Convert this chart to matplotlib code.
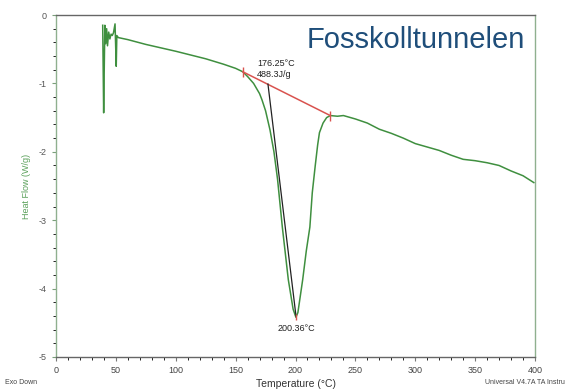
import matplotlib
matplotlib.use("Agg")
import matplotlib.pyplot as plt
import numpy as np

plt.rcParams['font.family'] = ['Liberation Sans', 'DejaVu Sans']

# Heat flow curve (Temperature °C, Heat Flow W/g)
temp = [39.0, 39.8, 40.2, 40.8, 41.5, 42.3, 43.0, 44.0, 45.0, 46.0, 47.0, 48.0, 49.3,
        50.3, 50.8, 52.0, 60, 75, 100, 125, 140, 150, 156,
        160, 165, 170, 172, 175, 178.7, 182, 185, 189, 194, 198, 200.36,
        202, 206, 209, 212, 214, 216.5, 218.5, 220, 223, 226, 229,
        235, 240, 250, 260, 270, 280, 290, 300, 310, 320, 330, 340, 350, 360, 370, 380, 390, 399]
heat = [-0.15, -1.43, -0.9, -0.15, -0.42, -0.2, -0.45, -0.25, -0.35, -0.28, -0.3, -0.26, -0.13,
        -0.75, -0.3, -0.33, -0.36, -0.43, -0.53, -0.64, -0.72, -0.78, -0.83,
        -0.9, -1.0, -1.15, -1.24, -1.4, -1.68, -2.0, -2.4, -3.1, -3.87, -4.3, -4.42,
        -4.35, -3.87, -3.45, -3.1, -2.6, -2.2, -1.9, -1.72, -1.58, -1.5, -1.47,
        -1.48, -1.47, -1.52, -1.58, -1.67, -1.73, -1.8, -1.88, -1.93, -1.98, -2.05, -2.11,
        -2.13, -2.16, -2.2, -2.28, -2.35, -2.45]

# Analysis lines
baseline_x = [156, 229]
baseline_y = [-0.83, -1.47]
tangent_x = [177.0, 200.4]
tangent_y = [-1.01, -4.40]
peak_x, peak_y = 200.36, -4.42

fig = plt.figure(figsize=(5.67, 3.89), dpi=100)
ax = fig.add_axes([56/567, 1-357/389, (535-56)/567, (357-15)/389])

green = '#3f8f3f'
ax.plot(temp, heat, color=green, lw=1.1, zorder=3)
ax.plot(baseline_x, baseline_y, color='#d9534f', lw=1.1, zorder=4)
ax.plot(baseline_x, baseline_y, ls='none', marker='|', ms=7, mew=1.0, color='#d9534f', zorder=5)
ax.plot(tangent_x, tangent_y, color='#222222', lw=0.9, zorder=4)
ax.plot([peak_x], [peak_y], ls='none', marker='|', ms=5, mew=1.0, color='#d9534f', zorder=5)

ax.text(168, -0.93, "176.25°C\n488.3J/g", fontsize=6.5, ha='left', va='bottom',
        color='#222222', linespacing=1.25)
ax.text(peak_x, -4.52, "200.36°C", fontsize=6.5, ha='center', va='top', color='#222222')

ax.text(0.979, 0.927, "Fosskolltunnelen", transform=ax.transAxes, fontsize=21,
        color='#1f4e7a', ha='right', va='center',
        bbox=dict(facecolor='white', edgecolor='none', pad=1))

ax.set_xlim(0, 400)
ax.set_ylim(-5, 0)
ax.set_xticks(np.arange(0, 401, 50))
ax.set_xticks(np.arange(0, 401, 10), minor=True)
ax.set_yticks(np.arange(-5, 0.1, 1))
ax.set_yticks(np.arange(-5, 0.01, 0.2), minor=True)
ax.set_yticklabels([str(int(v)) for v in np.arange(-5, 1, 1)])

ax.tick_params(axis='both', which='major', labelsize=6.5, labelcolor='#444444', length=3, width=0.8)
ax.tick_params(axis='both', which='minor', length=2, width=0.6)
ax.tick_params(axis='y', colors='#7a9f7a', labelcolor='#555555')
ax.tick_params(axis='x', colors='#777777', labelcolor='#444444')

for s in ['left', 'right']:
    ax.spines[s].set_color('#8fb08f')
for s in ['top', 'bottom']:
    ax.spines[s].set_color('#666666')
for s in ax.spines.values():
    s.set_linewidth(1.0)

ax.set_ylabel("Heat Flow (W/g)", fontsize=6.5, color='#5aa05a', labelpad=6)
ax.set_xlabel("Temperature (°C)", fontsize=7.5, color='#333333', labelpad=3)

fig.text(5/567, 1-383/389, "Exo Down", fontsize=5, color='#444444', va='center', ha='left')
fig.text(565/567, 1-383/389, "Universal V4.7A TA Instru", fontsize=5, color='#444444',
         va='center', ha='right')

fig.savefig("out.png", dpi=100)
